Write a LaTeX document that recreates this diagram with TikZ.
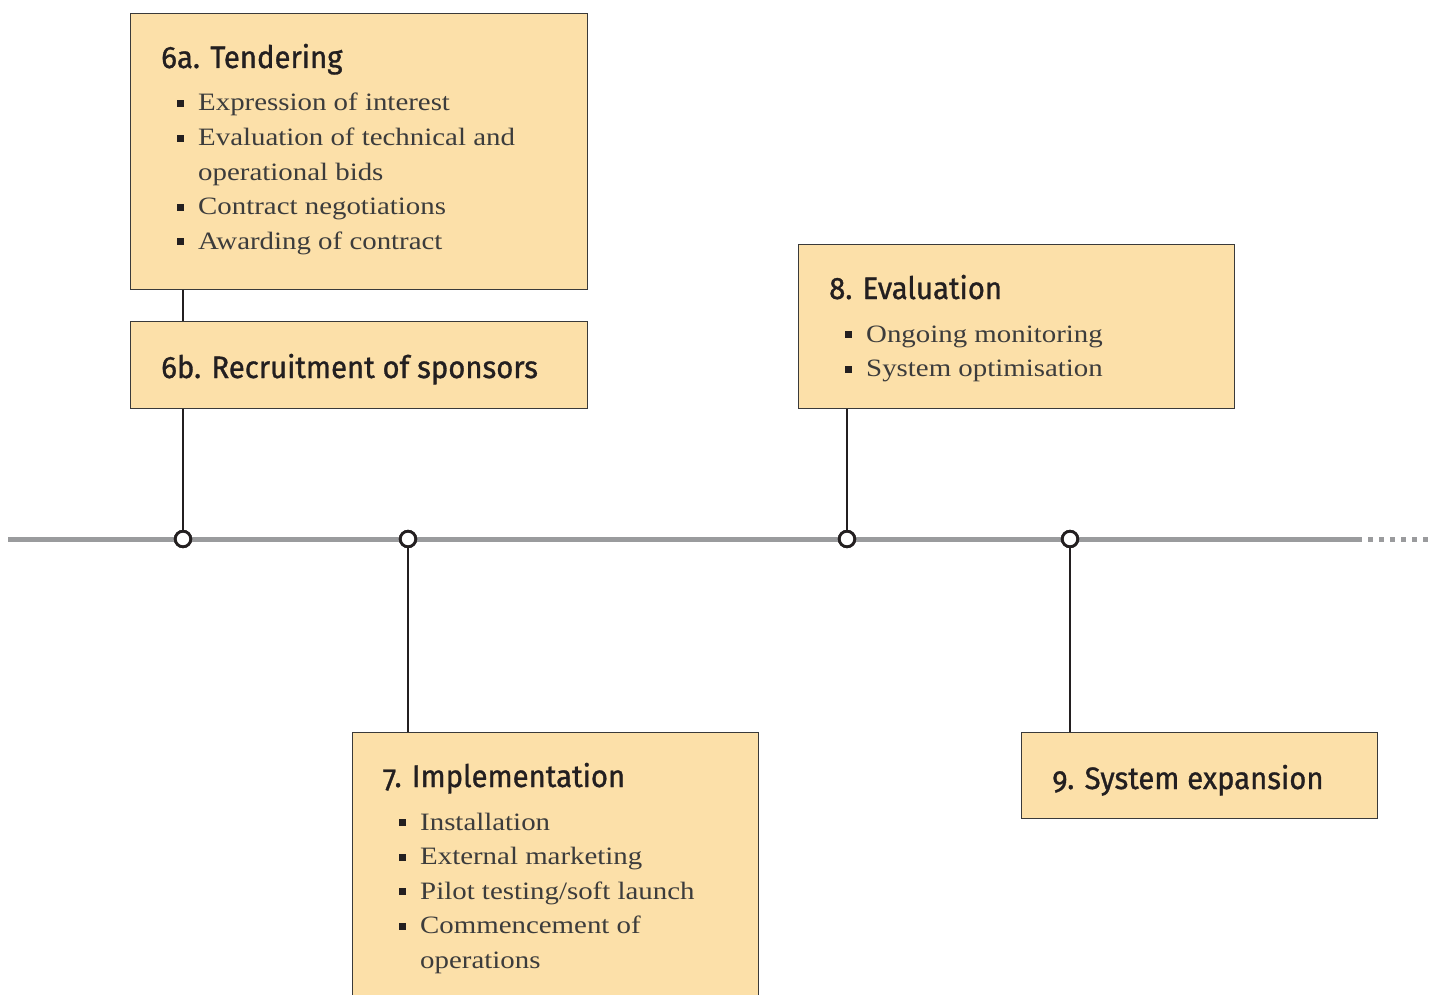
\documentclass[tikz,border=0pt]{standalone}
\usepackage{fontspec}
\setmainfont{Liberation Serif}[FakeStretch=1.155]
\newfontfamily\headfont{Fira Sans}[Numbers=OldStyle,FakeBold=1.0,FakeStretch=0.945]
\usetikzlibrary{calc}

\definecolor{boxfill}{HTML}{FCE0A9}
\definecolor{boxline}{HTML}{3A3A3A}
\definecolor{timeline}{HTML}{9A9B9D}
\definecolor{ink}{HTML}{231F20}
\definecolor{bodytext}{HTML}{3C3C3C}

% small square bullet followed by the indent of the item text
\newcommand{\bul}{\makebox[21pt][l]{\textcolor{ink}{\rule[4pt]{6.5pt}{7pt}}}}
\newcommand{\noblt}{\makebox[21pt][l]{}}

\tikzset{
  stagebox/.style={draw=boxline, line width=1.4pt, fill=boxfill, rectangle,
    anchor=north west, inner sep=0pt},
  head/.style={anchor=base west, inner sep=0pt, text=ink,
    font=\headfont\fontsize{31pt}{36pt}\selectfont},
  item/.style={anchor=base west, inner sep=0pt, text=bodytext,
    font=\fontsize{25pt}{30pt}\selectfont},
  conn/.style={draw=ink, line width=2.8pt},
  milestone/.style={circle, draw=ink, line width=2.8pt, fill=white,
    minimum size=15.5pt, inner sep=0pt},
  axis/.style={draw=timeline, line width=5pt},
}

\begin{document}
\begin{tikzpicture}[x=1pt,y=-1pt]
\useasboundingbox (0,0) rectangle (1440,995);

% stage boxes
\node[stagebox, minimum width=457pt, minimum height=276pt] (b6a) at (130,13) {};
\node[stagebox, minimum width=457pt, minimum height=87pt]  (b6b) at (130,321) {};
\node[stagebox, minimum width=436pt, minimum height=164pt] (b8)  at (798,244) {};
\node[stagebox, minimum width=406pt, minimum height=280pt] (b7)  at (352,732) {};
\node[stagebox, minimum width=356pt, minimum height=86pt]  (b9)  at (1021,732) {};

% timeline
\coordinate (tl-start) at (8,539);
\coordinate (tl-end) at (1357,539);
\coordinate (tl-dots) at (1430,539);
\draw[axis] (tl-start) -- (tl-end);
\draw[axis, dash pattern=on 5pt off 6pt] (tl-end) -- (tl-dots);

% milestones on the timeline
\node[milestone] (m6) at (183,539) {};
\node[milestone] (m7) at (408,539) {};
\node[milestone] (m8) at (847,539) {};
\node[milestone] (m9) at (1070,539) {};

% connectors
\draw[conn] (b6a.south -| m6) -- (b6b.north -| m6);
\draw[conn] (b6b.south -| m6) -- (m6.north);
\draw[conn] (m7.south) -- (b7.north -| m7);
\draw[conn] (b8.south -| m8) -- (m8.north);
\draw[conn] (m9.south) -- (b9.north -| m9);

% redraw milestones over connector ends
\node[milestone] at (m6) {};
\node[milestone] at (m7) {};
\node[milestone] at (m8) {};
\node[milestone] at (m9) {};

% 6a
\node[head] (h6a) at ($(b6a.north west)+(31,55)$) {6a. Tendering};
\node[item] (i6a1) at ($(b6a.north west)+(47,98)$) {\bul Expression of interest};
\node[item] (i6a2) at ($(b6a.north west)+(47,132.6)$) {\bul Evaluation of technical and};
\node[item] (i6a3) at ($(b6a.north west)+(47,167.2)$) {\noblt operational bids};
\node[item] (i6a4) at ($(b6a.north west)+(47,201.8)$) {\bul Contract negotiations};
\node[item] (i6a5) at ($(b6a.north west)+(47,236.4)$) {\bul Awarding of contract};

% 6b
\node[head] (h6b) at ($(b6b.north west)+(31,57)$) {6b. Recruitment of sponsors};

% 8
\node[head] (h8) at ($(b8.north west)+(31,55)$) {8. Evaluation};
\node[item] (i81) at ($(b8.north west)+(47,98)$) {\bul Ongoing monitoring};
\node[item] (i82) at ($(b8.north west)+(47,132.6)$) {\bul System optimisation};

% 7
\node[head] (h7) at ($(b7.north west)+(31,55)$) {7. Implementation};
\node[item] (i71) at ($(b7.north west)+(47,98)$) {\bul Installation};
\node[item] (i72) at ($(b7.north west)+(47,132.6)$) {\bul External marketing};
\node[item] (i73) at ($(b7.north west)+(47,167.2)$) {\bul Pilot testing/soft launch};
\node[item] (i74) at ($(b7.north west)+(47,201.8)$) {\bul Commencement of};
\node[item] (i75) at ($(b7.north west)+(47,236.4)$) {\noblt operations};

% 9
\node[head] (h9) at ($(b9.north west)+(31,57)$) {9. System expansion};
\end{tikzpicture}
\end{document}
